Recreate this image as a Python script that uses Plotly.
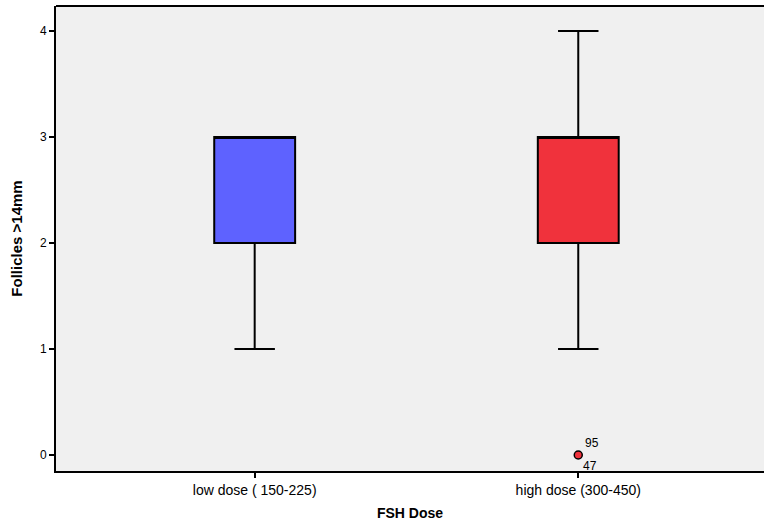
import plotly.graph_objects as go

categories = ["low dose ( 150-225)", "high dose (300-450)"]
q1 = [2, 2]
median = [3, 3]
q3 = [3, 3]
lower_whisker = [1, 1]
upper_whisker = [3, 4]
box_colors = ["#5E62FF", "#F0323C"]

outlier_category = "high dose (300-450)"
outlier_value = 0
outlier_labels = ["95", "47"]

fig = go.Figure()
for i, cat in enumerate(categories):
    fig.add_trace(go.Box(
        x=[cat], q1=[q1[i]], median=[median[i]], q3=[q3[i]],
        lowerfence=[lower_whisker[i]], upperfence=[upper_whisker[i]],
        fillcolor=box_colors[i], line=dict(color="black", width=2),
        width=0.25, whiskerwidth=0.5, boxpoints=False, showlegend=False,
        hoverinfo="skip",
    ))

fig.add_trace(go.Scatter(
    x=[outlier_category], y=[outlier_value], mode="markers",
    marker=dict(color="#F0323C", size=8, line=dict(color="black", width=1.5)),
    showlegend=False, hoverinfo="skip",
))

fig.add_annotation(x=outlier_category, y=outlier_value, text=outlier_labels[0],
                   xshift=14, yshift=12, showarrow=False,
                   font=dict(size=12, color="black", family="Liberation Sans"))
fig.add_annotation(x=outlier_category, y=outlier_value, text=outlier_labels[1],
                   xshift=12, yshift=-11, showarrow=False,
                   font=dict(size=12, color="black", family="Liberation Sans"))

# top border of plot area
fig.add_shape(type="line", xref="paper", yref="paper", x0=0, x1=1, y0=1, y1=1,
              line=dict(color="black", width=2))

fig.update_layout(
    width=765, height=526,
    margin=dict(l=56, r=1, t=6, b=55, autoexpand=False),
    paper_bgcolor="white", plot_bgcolor="#F0F0F0",
    font=dict(family="Liberation Sans", color="black"),
    xaxis=dict(
        type="category", categoryorder="array", categoryarray=categories,
        range=[-0.614, 1.574], showgrid=False, zeroline=False, automargin=False,
        showline=True, linecolor="black", linewidth=2, mirror=False,
        ticks="outside", ticklen=5, tickwidth=2, tickcolor="black",
        tickfont=dict(size=14, color="black"),
        title=dict(text="<b>FSH Dose</b>", font=dict(size=14), standoff=11),
    ),
    yaxis=dict(
        range=[-0.151, 4.236], tickvals=[0, 1, 2, 3, 4], automargin=False,
        showgrid=False, zeroline=False,
        showline=True, linecolor="black", linewidth=2,
        ticks="outside", ticklen=5, tickwidth=2, tickcolor="black",
        tickfont=dict(size=12, color="black"), tickprefix="<b>", ticksuffix="</b>",
        title=dict(text="<b>Follicles >14mm</b>", font=dict(size=15), standoff=14),
    ),
)

fig.write_html("out.html", config={"displayModeBar": False},
               post_script="document.body.style.margin='0';document.body.style.overflow='hidden';document.documentElement.style.overflow='hidden';")
